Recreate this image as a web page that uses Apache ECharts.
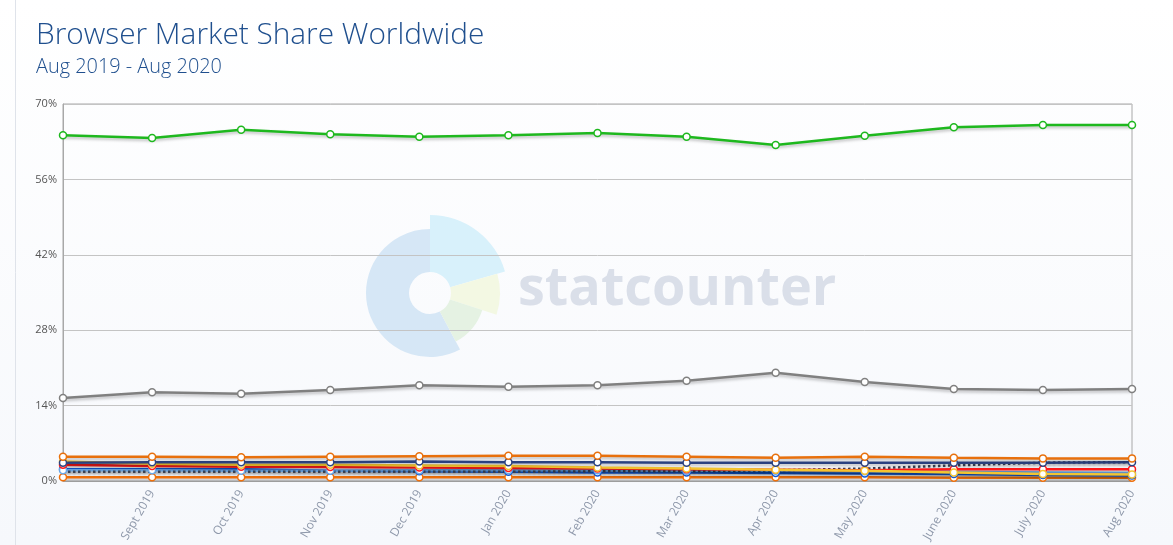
<!DOCTYPE html>
<html>
<head>
<meta charset="utf-8">
<script src="https://cdn.jsdelivr.net/npm/echarts@6/dist/echarts.min.js"></script>
<style>
html,body{margin:0;padding:0;background:#fff;}
#chart{width:1173px;height:545px;}
</style>
</head>
<body>
<div id="chart"></div>
<script>
const months = ['Aug 2019','Sept 2019','Oct 2019','Nov 2019','Dec 2019','Jan 2020','Feb 2020','Mar 2020','Apr 2020','May 2020','June 2020','July 2020','Aug 2020'];
const xTickLabels = ['','Sept 2019','Oct 2019','Nov 2019','Dec 2019','Jan 2020','Feb 2020','Mar 2020','Apr 2020','May 2020','June 2020','July 2020','Aug 2020'];
const yTicks = [0, 14, 28, 42, 56, 70];

const chrome   = [64.2, 63.7, 65.2, 64.4, 63.9, 64.2, 64.6, 63.9, 62.4, 64.1, 65.7, 66.1, 66.1];
const safari   = [15.4, 16.5, 16.2, 16.9, 17.8, 17.5, 17.8, 18.6, 20.1, 18.4, 17.1, 16.9, 17.1];
const firefox  = [4.5, 4.5, 4.4, 4.5, 4.6, 4.7, 4.7, 4.5, 4.3, 4.5, 4.3, 4.2, 4.2];
const samsung  = [3.4, 3.5, 3.5, 3.5, 3.6, 3.5, 3.5, 3.4, 3.4, 3.4, 3.4, 3.4, 3.5];
const ucBrowser= [3.6, 3.2, 3.0, 3.0, 2.9, 2.8, 2.5, 2.3, 2.1, 1.9, 1.6, 1.3, 1.2];
const opera    = [3.0, 2.8, 2.65, 2.6, 2.5, 2.4, 2.3, 2.2, 2.1, 2.0, 2.2, 2.2, 2.2];
const edgeLight= [2.0, 2.0, 1.9, 1.9, 2.0, 2.0, 2.0, 1.9, 1.9, 1.8, 1.7, 1.6, 1.5];
const ie       = [2.2, 2.2, 2.2, 1.9, 1.8, 1.7, 1.6, 1.6, 1.5, 1.4, 1.3, 1.1, 1.0];
const other    = [1.7, 1.7, 1.7, 1.7, 1.7, 1.7, 1.8, 1.8, 2.0, 2.3, 2.9, 3.4, 3.5];
const yandex   = [0.7, 0.7, 0.7, 0.7, 0.7, 0.7, 0.7, 0.7, 0.7, 0.7, 0.6, 0.6, 0.6];

const chart = echarts.init(document.getElementById('chart'), null, {renderer: 'canvas'});

function line(name, data, color, opts) {
  opts = opts || {};
  return {
    name: name,
    type: 'line',
    data: data,
    smooth: false,
    symbol: 'circle',
    symbolSize: opts.symbolSize || 7,
    showSymbol: opts.showSymbol !== false,
    lineStyle: {
      color: color,
      width: opts.width || 2.5,
      type: opts.type || 'solid',
      shadowColor: 'rgba(0,0,0,0.25)',
      shadowBlur: 3,
      shadowOffsetY: 2
    },
    itemStyle: { color: '#ffffff', borderColor: color, borderWidth: 1.5 },
    emphasis: { disabled: true },
    z: opts.z || 3
  };
}

const option = {
  animation: false,
  backgroundColor: {
    type: 'linear', x: 0, y: 0, x2: 0, y2: 1,
    colorStops: [{offset: 0, color: '#ffffff'}, {offset: 1, color: '#f6f8fc'}]
  },
  title: {
    text: 'Browser Market Share Worldwide',
    subtext: 'Aug 2019 - Aug 2020',
    left: 31,
    top: 16,
    itemGap: 6,
    textStyle: { fontFamily: 'Open Sans', fontSize: 29.8, fontWeight: 300, color: '#1f4f8e' },
    subtextStyle: { fontFamily: 'Open Sans', fontSize: 19.9, fontWeight: 300, color: '#1f4f8e' }
  },
  graphic: [
    { type: 'line', z: -10, shape: {x1: 15.5, y1: 0, x2: 15.5, y2: 545}, style: {stroke: '#dfe3ea', lineWidth: 1} },
    { type: 'sector', z: -10, shape: {cx: 430, cy: 293, r: 64, r0: 21, startAngle: 62*Math.PI/180, endAngle: 270*Math.PI/180, clockwise: true}, style: {fill: '#d6e7f6'} },
    { type: 'sector', z: -10, shape: {cx: 430, cy: 293, r: 78, r0: 21, startAngle: -90*Math.PI/180, endAngle: -16*Math.PI/180, clockwise: true}, style: {fill: '#d8f1fb'} },
    { type: 'sector', z: -10, shape: {cx: 430, cy: 293, r: 70, r0: 21, startAngle: -16*Math.PI/180, endAngle: 18*Math.PI/180, clockwise: true}, style: {fill: '#f3f8e3'} },
    { type: 'sector', z: -10, shape: {cx: 430, cy: 293, r: 55, r0: 21, startAngle: 18*Math.PI/180, endAngle: 62*Math.PI/180, clockwise: true}, style: {fill: '#e5f2e3'} },
    { type: 'text', z: -10, left: 518, top: 263, style: {text: 'statcounter', font: 'bold 54px "Open Sans"', fill: '#dadfe9'} }
  ],
  grid: {
    left: 63, right: 41, top: 104, bottom: 64,
    show: true, borderColor: '#a8a8a8', borderWidth: 1, backgroundColor: 'transparent'
  },
  xAxis: {
    type: 'category',
    data: months,
    boundaryGap: false,
    axisLine: { show: true, lineStyle: { color: '#a8a8a8', width: 1 } },
    axisTick: { show: false },
    splitLine: { show: false },
    axisLabel: {
      rotate: 60,
      interval: 0,
      margin: 10,
      fontFamily: 'Open Sans',
      fontSize: 12,
      color: '#8e98aa',
      formatter: function (v, i) { return xTickLabels[i]; }
    }
  },
  yAxis: {
    type: 'value',
    min: yTicks[0],
    max: yTicks[yTicks.length - 1],
    interval: 14,
    axisLine: { show: true, lineStyle: { color: '#a8a8a8', width: 1 } },
    axisTick: { show: false },
    splitLine: { show: true, lineStyle: { color: '#c4c4c4', width: 1 } },
    axisLabel: {
      margin: 6,
      fontFamily: 'Open Sans',
      fontSize: 11,
      color: '#555555',
      formatter: '{value}%'
    }
  },
  series: [
    line('Yandex', yandex, '#f0700a'),
    line('IE', ie, '#1059d6'),
    line('Edge Legacy', edgeLight, '#6aa7e6'),
    line('Other', other, '#3a4356', {type: 'dotted', showSymbol: false, width: 2.5}),
    line('Opera', opera, '#ff1a1a'),
    line('UC Browser', ucBrowser, '#f4c430'),
    line('Samsung Internet', samsung, '#2b4281'),
    line('Firefox', firefox, '#e8700c'),
    line('Safari', safari, '#808080'),
    line('Chrome', chrome, '#1eb81e')
  ]
};
chart.setOption(option);
</script>
</body>
</html>
